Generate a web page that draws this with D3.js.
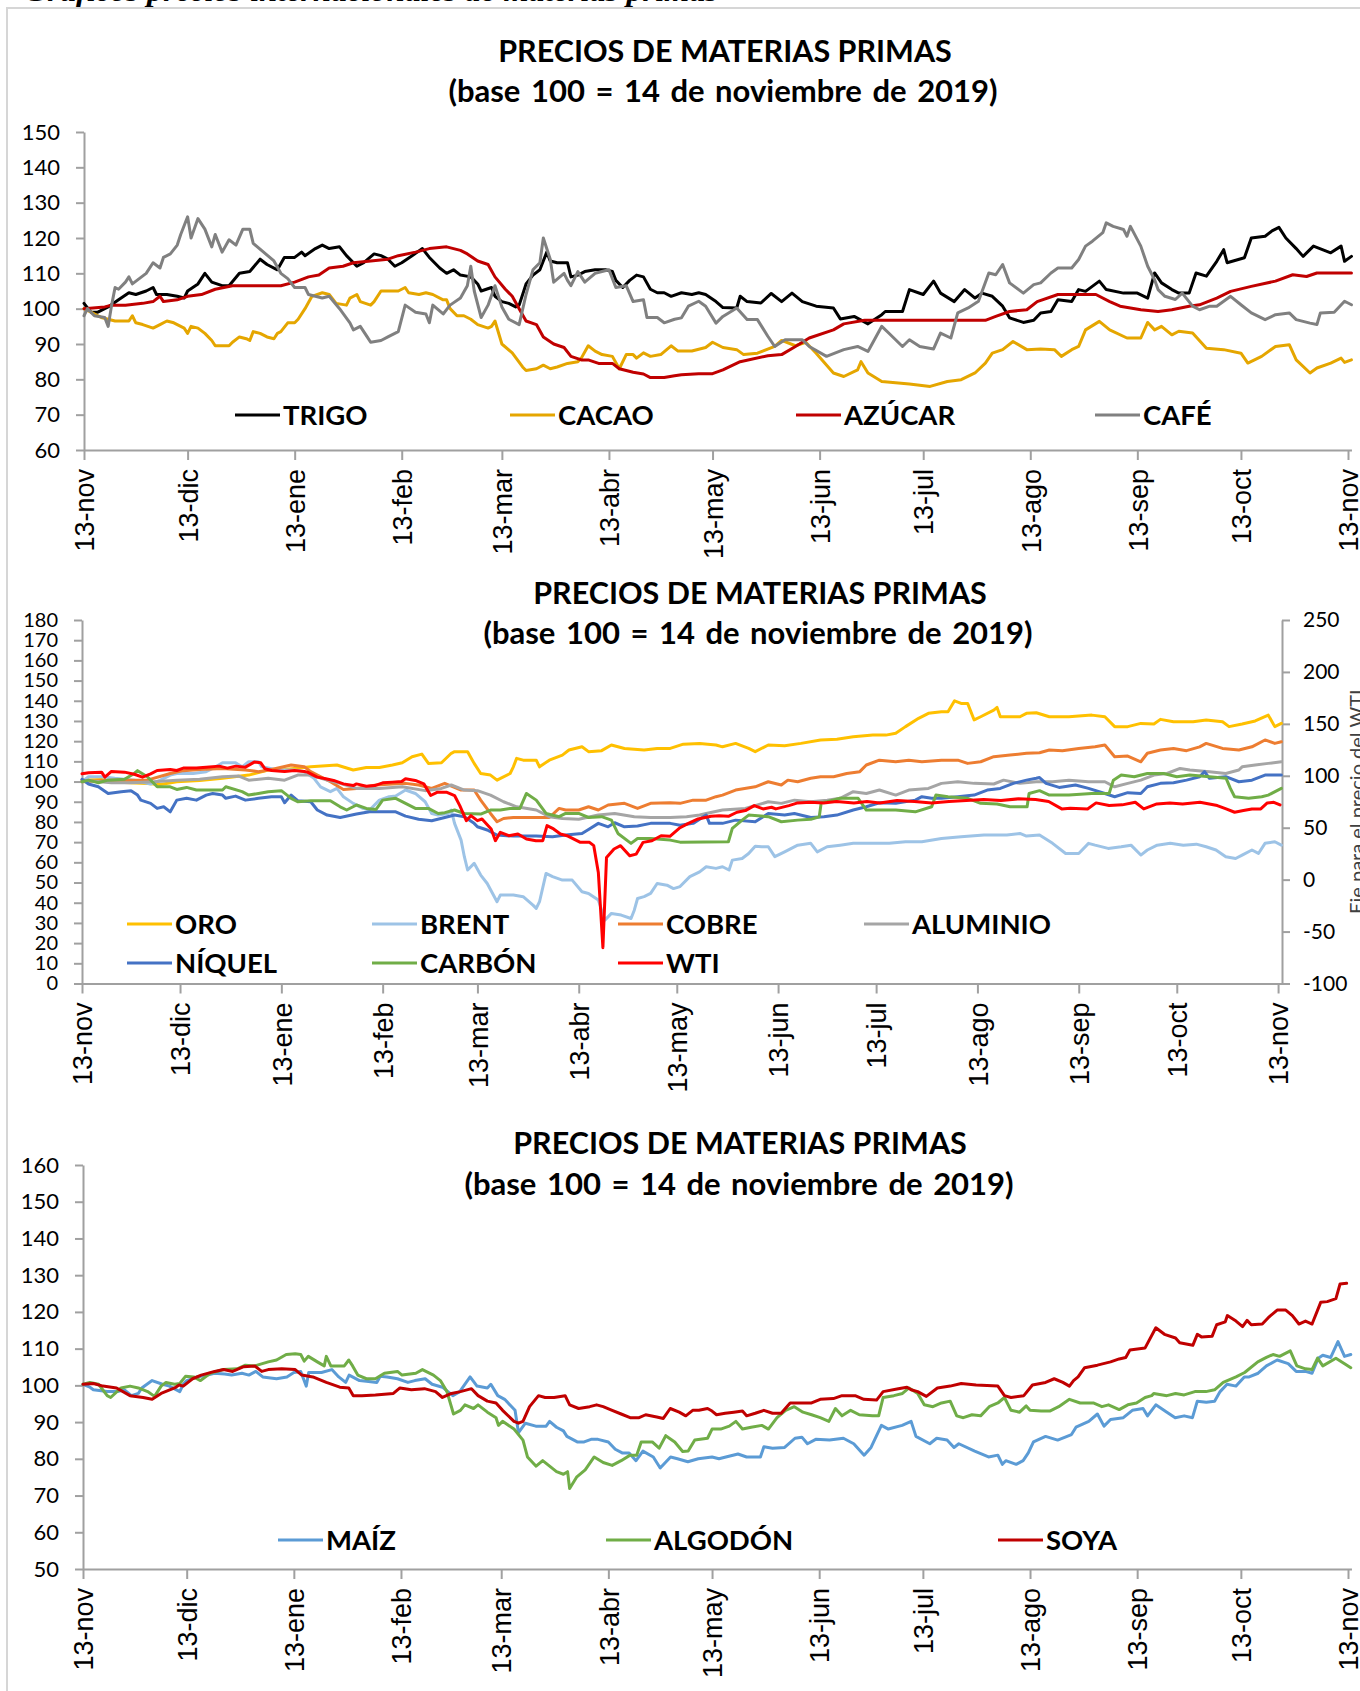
<!DOCTYPE html>
<html><head><meta charset="utf-8">
<script src="https://cdnjs.cloudflare.com/ajax/libs/d3/7.8.5/d3.min.js"></script>
<style>body{margin:0;background:#fff;}svg{display:block;}</style>
</head><body>
<script>
// ---------- DATA (day offset from 13-nov-2019, index value) ----------
const monthLabels = ["13-nov","13-dic","13-ene","13-feb","13-mar","13-abr","13-may","13-jun","13-jul","13-ago","13-sep","13-oct","13-nov"];
const chartTitle1 = "PRECIOS DE MATERIAS PRIMAS";
const chartTitle2 = "(base 100 = 14 de noviembre de 2019)";

// Chart 1
const trigo = [[0,101.5],[2,99],[4,99],[7,100.5],[10,102.5],[13,104.5],[15,104],[18,105],[20,106],[21,104],[24,104],[27,103.5],[29,103],[30,105],[33,107],[35,110],[37,107.5],[40,106.5],[42,106.5],[45,110],[48,110.5],[51,114],[53,112.5],[56,111],[58,114.5],[61,114.5],[63,116],[64,115],[67,117],[69,118],[71,117],[74,117.5],[76,115],[79,112],[81,113],[84,115.5],[86,115],[88,114],[90,112],[92,113],[95,115],[98,117],[100,114.5],[103,111.5],[105,110],[107,111],[109,109.5],[112,109],[114,107],[115,105],[118,106],[119,103.5],[121,102],[123,101.5],[125,100.5],[126,101],[128,107],[130,109.5],[132,111],[134,116],[135,113.5],[137,113],[140,113],[141,109],[143,109.5],[145,110.5],[148,111],[151,111],[153,110.5],[154,108],[156,106],[158,108],[160,109.5],[162,109],[164,105.5],[166,104.5],[168,104.5],[170,103.5],[173,104.5],[176,104],[178,104.5],[180,104],[183,102],[185,100.3],[189,100.2],[190,103.5],[192,102],[196,101.6],[199,104.3],[202,102],[205,104.4],[208,102],[212,100.7],[217,100.2],[219,97.1],[223,97.8],[227,95.7],[231,98.3],[232,99.2],[237,99.2],[239,105.4],[243,104],[246,107.8],[248,104.4],[252,102],[255,105.4],[258,103],[260,104.4],[263,103.5],[266,100.7],[268,97.4],[272,96.1],[275,96.7],[277,98.8],[280,99.2],[282,102.5],[286,102],[288,105.4],[290,104.9],[294,107.8],[296,105.4],[301,104.4],[305,104.4],[308,103],[310,110.1],[312,107.3],[315,105.4],[317,104.4],[320,104.4],[322,110.1],[325,109.2],[328,113.4],[330,116.7],[331,113],[336,114.4],[338,120],[342,120.5],[344,122],[346,123],[348,120],[351,117],[353,114.8],[356,117.7],[361,115.8],[364,117.7],[365,113.4],[367,114.8]];
const cacao = [[0,100],[2,99],[5,97.5],[9,96.5],[13,96.5],[14,98],[15,96],[17,95.5],[20,94.5],[22,95.5],[24,96.5],[26,96],[29,94.5],[30,93],[31,95],[33,94.5],[35,93],[37,91],[38,89.5],[42,89.5],[43,90.5],[45,92],[47,91.5],[48,91],[49,93.5],[51,93],[53,92],[55,91.5],[56,93],[57,93.5],[59,96],[61,96],[62,97],[64,100],[66,103.5],[69,104.5],[71,104],[73,101.5],[76,101],[77,103],[79,104],[80,102],[83,101],[84,102],[86,105],[91,105],[93,106],[94,104.5],[97,104],[99,104.5],[101,104],[104,102.5],[105,102.5],[106,100],[108,98],[110,98],[112,97],[114,95.5],[117,94.5],[118,95],[119,96.5],[121,90],[124,87.5],[127,83.5],[128,82.5],[131,83],[133,84],[135,83],[137,83.5],[140,84.5],[143,85],[144,86],[146,89.5],[148,88],[150,87],[153,86.5],[155,83],[157,87],[159,87],[160,86],[162,87.5],[164,86.5],[167,87],[170,89.5],[172,88],[176,88],[180,89],[182,90.5],[185,89],[189,88.4],[191,87],[195,87.4],[200,89.3],[202,91],[206,89.5],[209,90.5],[212,87.4],[217,81.8],[220,80.8],[224,82.7],[225,85],[227,81.8],[231,79.4],[239,78.7],[245,78],[250,79.4],[254,79.9],[258,81.8],[261,84.6],[263,87.4],[266,88.4],[269,90.7],[273,88.4],[277,88.6],[281,88.4],[283,86.5],[286,88.4],[288,89.3],[290,94],[294,96.4],[297,94],[302,91.7],[306,91.7],[308,96.1],[310,94],[312,95],[315,92.6],[317,93.6],[321,93.1],[325,88.8],[330,88.4],[335,87.4],[337,84.6],[341,86.5],[345,89.3],[349,89.8],[351,85.5],[355,81.8],[357,83.2],[361,84.6],[364,86],[365,84.8],[367,85.5]];
const azucar = [[0,100],[6,100.5],[8,101],[12,101],[17,101.5],[20,102],[22,103.5],[23,102],[27,102.5],[30,103.5],[34,104],[38,105.5],[43,106.5],[48,106.5],[53,106.5],[57,106.5],[61,107.5],[65,109],[68,109.5],[71,111.5],[75,112],[78,113],[83,113.5],[88,114],[91,115],[96,116],[100,117],[105,117.5],[109,116.5],[111,115.5],[114,113.5],[117,112.5],[119,109],[122,105.5],[124,103.5],[126,100],[128,96.5],[131,95.5],[133,92],[136,90],[139,89],[141,86.5],[144,85.5],[146,85.5],[149,84.5],[153,84.5],[155,83],[159,82],[162,81.5],[164,80.5],[168,80.5],[171,81],[173,81.3],[178,81.6],[182,81.6],[185,82.7],[190,85],[198,86.7],[202,87],[206,89.3],[210,91.7],[217,94],[220,95.7],[226,96.7],[236,96.7],[246,96.7],[256,96.7],[261,96.7],[264,97.8],[268,99.2],[273,99.7],[276,102],[282,104],[293,104],[297,102],[300,100.7],[306,99.7],[311,99.2],[315,99.7],[320,100.7],[323,101.1],[328,103],[332,104.9],[338,106.3],[345,107.8],[350,109.6],[354,109.1],[357,110.1],[367,110.1]];
const cafe = [[0,98],[1,100],[3,98],[6,97.5],[7,95],[8,101],[9,106],[10,105.5],[12,107.5],[13,109],[14,107],[16,108.5],[18,110],[20,113],[22,111.5],[23,114.5],[25,115.5],[27,118],[28,121],[30,126],[31,120],[33,125.5],[35,122.5],[37,117.5],[38,121],[40,116],[42,119.5],[44,118],[46,122.5],[48,122.5],[49,118.5],[52,116],[55,113.5],[57,110],[59,108.5],[61,106],[64,106],[65,104],[69,103],[71,103.5],[74,100],[77,96],[78,94],[80,95],[82,92],[83,90.5],[86,91],[88,92],[91,93.5],[93,101],[96,99],[99,98.5],[100,96],[101,101],[104,98.5],[106,101],[109,103],[111,106.5],[112,112],[113,105],[115,97.5],[117,101],[119,106.5],[121,100.5],[123,97],[126,95.5],[128,104],[130,111],[132,113],[133,120],[135,114],[136,107.5],[139,110],[140,108],[141,106.5],[143,110.5],[145,107.5],[148,110],[150,110.5],[152,111],[154,106],[157,106.5],[159,102],[162,102.5],[163,97.5],[166,97.5],[168,96],[171,97],[173,97.4],[175,100.7],[178,102.1],[180,100.7],[183,95.9],[185,97.8],[189,100.2],[192,96.9],[195,96.9],[198,92.2],[200,89.3],[203,91.2],[208,91.2],[210,89.3],[215,86.5],[220,88.4],[224,89.3],[227,87.9],[231,95],[233,93.1],[237,89.3],[239,91.2],[242,89.3],[246,88.6],[248,93.1],[251,91.7],[253,98.8],[256,100.2],[259,102.1],[262,110.1],[264,109.6],[266,112.5],[268,107.3],[272,104.4],[275,106.8],[277,107.3],[280,110.1],[282,111.5],[286,111.5],[288,113.9],[290,117.7],[292,119.1],[295,121.5],[296,124.3],[298,123.3],[301,122.4],[302,120.5],[303,123.3],[306,117.7],[308,112],[310,108.2],[311,105.4],[313,103.5],[316,102.6],[318,104.4],[321,100.7],[323,99.7],[326,100.7],[328,100.7],[332,103.5],[335,101.1],[338,98.8],[342,96.9],[345,98.3],[349,98.8],[351,96.9],[355,95.9],[357,95.5],[358,98.8],[362,99],[365,102.1],[367,101.1]];

// Chart 2 (WTI on right axis)
const oro = [[0,100.7],[6,101],[13,99.5],[20,99],[24,98.5],[29,99.9],[36,100.5],[43,101.6],[51,103.2],[57,105.7],[62,106],[70,107.3],[78,108.2],[83,105.7],[87,107],[91,107],[95,108.2],[98,109.3],[101,112.3],[104,113.6],[106,109],[110,109.3],[113,114],[114,114.8],[118,114.8],[120,109],[122,104],[125,103.2],[127,100.7],[131,104],[132,107.3],[133,111.5],[135,110.6],[139,110.6],[140,107.3],[143,110.6],[147,113.1],[149,115.6],[153,117.2],[155,114.8],[159,115.3],[162,118.1],[166,116.4],[172,115.6],[176,116.4],[180,116.4],[184,118.5],[189,118.9],[194,118.1],[196,117.2],[200,118.9],[204,116.4],[206,114.8],[210,118.1],[215,117.7],[220,118.9],[226,120.6],[231,120.9],[236,122.2],[242,123],[246,123],[249,123.9],[252,127.2],[256,131.3],[259,133.8],[263,134.6],[265,134.6],[267,140],[269,138.7],[271,138.7],[273,130.5],[275,132.1],[279,135.4],[280,136.7],[281,132.1],[287,132.1],[289,133.8],[292,134.1],[296,132.1],[302,132.1],[309,132.9],[313,132.1],[316,127.2],[320,127.2],[324,128.8],[328,128.5],[330,130.8],[334,129.6],[340,129.6],[344,130.5],[349,129.6],[351,127.2],[355,128.5],[359,130],[363,132.9],[365,127.2],[367,128.8]];
const brent = [[0,99.9],[2,102.4],[6,102.4],[10,101.6],[16,100.7],[18,99.9],[21,98.8],[24,100.7],[27,103.2],[29,104],[34,104],[38,104.9],[40,106.5],[43,109.3],[47,109.3],[49,107.3],[51,109.8],[54,109.8],[55,107.3],[60,105.7],[65,105.7],[68,104.9],[71,101.6],[73,97.4],[76,95],[78,96.6],[80,92.5],[83,89.2],[86,86.7],[88,85.9],[91,90.8],[94,92.5],[96,92.8],[99,95.8],[102,94.1],[105,90],[107,84.2],[109,83.4],[112,84.2],[113,85.9],[114,79.3],[116,71],[117,62.8],[118,56.2],[120,59.5],[122,53.7],[124,49.5],[127,40.5],[128,43.8],[132,43.8],[135,43],[138,38.8],[139,37.2],[140,40.5],[142,54.5],[144,52.9],[147,51.2],[150,51.2],[153,45.4],[155,44.6],[158,41.3],[160,31.4],[162,34.7],[165,33.9],[168,32.2],[169,36.3],[170,42.1],[172,43],[174,44.6],[176,49.5],[179,48.7],[181,47],[183,48],[186,52.9],[189,55.3],[191,57.8],[194,57],[196,57.8],[198,56.2],[199,61.1],[202,61.9],[204,64.4],[206,68],[208,67.7],[210,67.7],[212,62.8],[215,65.2],[219,68.5],[223,69.4],[225,65.2],[228,67.7],[232,68.5],[236,69.4],[247,69.4],[252,70.2],[257,70.2],[263,71.8],[269,72.7],[276,73.5],[283,73.5],[287,74.3],[289,73],[293,73.5],[297,69.4],[301,64.4],[305,64.4],[308,69.4],[310,68.5],[314,66.9],[318,67.7],[321,68.5],[324,63.6],[326,66.1],[329,68.5],[333,69.4],[337,68.5],[341,69],[344,67.7],[347,66.1],[350,62.8],[353,61.9],[355,63.6],[358,66.1],[360,64.4],[362,69.4],[365,70.2],[367,68.5]];
const cobre = [[0,99.9],[9,100.7],[20,100.7],[27,104],[31,105.4],[36,106],[43,106.5],[50,105.7],[54,104.9],[58,106],[64,108.2],[68,107.3],[70,104.9],[76,99.9],[80,96.1],[84,96.6],[90,98.3],[95,98.8],[99,99.1],[103,98.3],[107,96.6],[111,99.1],[116,95.8],[120,95.8],[122,90.8],[125,84.2],[127,80.1],[129,81.7],[132,82.2],[139,82.2],[143,82.2],[146,86.7],[148,85.9],[152,85.9],[155,87.5],[158,85.9],[161,88.4],[166,89.2],[170,86.7],[174,89.2],[180,89.5],[183,89.2],[187,90.8],[191,90.8],[194,92.5],[196,93.3],[200,95.8],[206,97.4],[210,99.9],[214,98.3],[216,100.7],[219,99.9],[223,101.6],[226,102.4],[230,102.4],[234,104],[238,104.9],[240,108.2],[244,110.6],[249,109.8],[253,110.6],[257,109.8],[263,110.6],[268,110.6],[271,109],[275,109.8],[279,112.3],[284,113.1],[289,114],[293,114.3],[296,115.6],[300,115.3],[305,116.4],[310,117.2],[313,118.1],[316,112.3],[320,112.6],[324,109.8],[326,114],[330,115.6],[334,116.4],[338,115.3],[342,117.2],[344,118.9],[349,116.4],[354,115.6],[358,117.2],[362,120.6],[365,118.9],[367,119.7]];
const aluminio = [[0,100.7],[9,99.4],[15,99.4],[22,99.9],[29,100.7],[36,101.1],[43,102.4],[48,102.7],[51,100.7],[57,101.6],[62,100.7],[66,103.2],[70,103.2],[75,100.7],[79,99.1],[84,96.6],[91,96.6],[98,97.4],[105,95.5],[110,96.6],[113,98.3],[117,95.8],[121,95.5],[125,93.3],[129,90],[133,87.5],[139,85.9],[143,82.6],[147,81.7],[152,81.3],[158,83.4],[163,84.2],[169,82.6],[174,82.2],[180,82.2],[185,82.6],[189,83.4],[191,84.2],[196,85.9],[203,86.7],[210,90],[214,89.2],[218,90.8],[223,90],[228,90.8],[232,91.7],[236,95],[240,94.1],[244,95.8],[249,93.3],[253,95.8],[259,96.6],[263,99.1],[268,99.9],[273,99.1],[279,98.8],[282,100.7],[287,99.1],[292,99.9],[297,99.9],[302,100.7],[308,99.9],[313,99.9],[316,97.4],[320,99.1],[324,100.7],[328,103.2],[332,104],[336,106.5],[339,105.7],[345,104.9],[350,104],[354,105.7],[355,107.3],[359,108.2],[363,109],[367,109.8]];
const niquel = [[0,101.1],[2,98.8],[5,97.4],[8,94.1],[12,95],[15,95.5],[17,93.3],[18,90.8],[21,89.2],[23,86.7],[25,87.5],[27,85],[29,90.8],[32,91.7],[35,90.8],[38,93.3],[40,94.1],[43,93.3],[44,91.7],[47,92.8],[50,90.8],[54,91.7],[58,92.5],[61,92.5],[62,89.5],[64,93.3],[66,90.5],[70,90],[72,85.9],[75,83.4],[79,82.2],[84,83.9],[88,85],[92,85],[96,85],[99,82.9],[103,81.3],[107,80.6],[111,82.2],[114,83.4],[117,82.6],[120,79.3],[121,77.6],[124,76],[127,73.5],[132,73],[139,73],[144,72.7],[148,73.5],[153,74.3],[155,76.3],[158,79.3],[161,77.6],[163,79.6],[166,77.6],[170,78],[174,79.3],[180,79.3],[183,78.4],[187,79.3],[191,83.4],[192,79.3],[196,79.3],[200,80.9],[206,80.1],[210,84.2],[215,83.4],[218,84.2],[223,82.2],[227,82.6],[231,83.4],[236,85.9],[240,87.5],[244,89.5],[249,89.2],[255,90.8],[257,92.5],[260,91.7],[263,91.7],[268,92.5],[273,93.3],[277,95.8],[281,96.6],[285,99.1],[289,100.7],[292,101.6],[293,102],[295,99.1],[299,97.1],[304,98.3],[308,96.6],[313,94.1],[316,92.5],[320,94.5],[324,94.1],[326,97.4],[330,99.1],[334,99.4],[338,100.7],[342,102.4],[343.5,104.9],[345,101.6],[350,102.4],[354,99.9],[358,100.7],[362,103.2],[367,103.2]];
const carbon = [[0,99.9],[2,100.7],[5,99.4],[8,100.7],[13,101.1],[16,104],[17,105.4],[20,102.4],[23,97.4],[27,97.4],[29,96.1],[32,97.1],[35,95.8],[43,95.8],[44,97.4],[49,95],[51,93.3],[54,94.1],[57,95],[61,95.5],[64,91.7],[66,90],[70,90.5],[76,90.5],[79,87.5],[81,85.9],[84,88.4],[87,86.7],[90,86.2],[92,90.8],[96,91.7],[99,89.2],[102,86.7],[106,86.7],[109,84.2],[111,84.6],[114,85.9],[117,84.2],[122,83.9],[125,85.9],[128,85.9],[131,86.7],[134,86.7],[136,94.1],[139,90.8],[142,84.2],[146,82.6],[148,84.2],[152,84.2],[155,82.2],[159,82.6],[162,80.9],[164,74.3],[168,69.4],[170,71.8],[174,71.8],[180,71],[183,70],[197.8,70.2],[199,76.8],[202,80.9],[204,83.4],[210,82.6],[214,80.1],[219,80.9],[223,81.3],[225.6,82.6],[226.2,89.5],[228,90],[232,91.7],[237.5,91.7],[240,85.9],[249,85.9],[255,85],[260,87.5],[261.3,93.3],[265,92.5],[271,91.7],[275,89.2],[280,88.9],[284,87.5],[289.2,87.5],[289.8,94.1],[293,95.5],[296,93.3],[302,93.3],[309,94.1],[314.3,94.1],[315.6,100.7],[318,103.2],[322,102.4],[326,104],[331,104],[335,102.4],[339,103.2],[345,102.4],[350.1,101.6],[351.4,96.6],[352.7,92.5],[357,91.7],[361,92.5],[363,93.3],[367,96.6]];
const wti = [[0,101.9],[2,102.9],[6,103.5],[7,98.7],[9,104.2],[13,103.5],[16,101.5],[18.5,98.7],[21,101.9],[23,105.1],[27,106.1],[29,105.1],[31,107.4],[35,107.4],[38,108.3],[42,109.3],[44.5,107.4],[47,109.3],[50,108.3],[52.7,113.2],[54.7,112.5],[56,106.7],[58,105.1],[62,104.2],[65,105.1],[68,104.2],[69,103.5],[72,98.7],[74.6,97.1],[77,95.5],[80,92.2],[83,90.6],[84,92.2],[87,90],[89.6,90.6],[92,93.2],[95,93.9],[97.8,94.5],[99,97.1],[102,95.5],[104.6,92.2],[106.7,81],[108.8,84.2],[111.5,84.2],[114,81],[115.6,71.3],[117.6,56.8],[119,61.6],[121,56.8],[122.4,58.4],[125.2,48.8],[126.5,37.5],[128,45.6],[130.6,42.3],[133.4,43.9],[136,39.1],[138.9,37.5],[141,37.5],[142.3,52],[144.3,48.8],[146.4,43.9],[148.4,42.3],[152.5,35.9],[155.3,35.9],[156.6,32.7],[158,6.9],[159.4,-65.5],[160.5,21.4],[162.8,29.5],[164.8,32.7],[167.6,23],[169.6,24.6],[171.7,35.9],[174.4,37.5],[177.2,42.3],[179.9,41.7],[183,50],[185.4,54],[188.5,58.4],[192.5,61],[195,61.6],[197.8,61],[200.4,64.9],[203,66.5],[205.7,71.3],[208.4,68.1],[211,69.7],[212.3,68.1],[216.3,71.3],[219,73.9],[222.9,74.5],[226.9,73.9],[230.9,75.2],[236.2,73.9],[240.2,75.2],[244.1,73.9],[249.4,76.1],[254.7,75.2],[260,73.9],[265.3,75.2],[270.6,76.1],[275.9,77.1],[281.2,76.1],[286.5,77.8],[291.8,77.1],[295.8,75.2],[299.8,68.1],[302.4,68.7],[307.7,68.1],[310.3,73.9],[314.3,71.3],[318.3,72],[322.3,74.5],[324.9,68.1],[328.9,72.9],[332.9,73.9],[336.8,72.9],[342.1,74.5],[347.4,71.3],[350.1,68.1],[352.7,64.9],[355.4,66.5],[358,68.1],[360.7,68.1],[362.7,73.9],[364.7,74.5],[366.6,72]];

// Chart 3
const maiz = [[0,100.3],[2,99.5],[3,98.8],[7,98.3],[10,98.3],[12,98.8],[14,97.2],[16,97.8],[17,99.3],[20,101.3],[23,100.3],[25,99.8],[28,98.3],[29,100.3],[30,101.3],[33,102.3],[36,102.8],[38,103.3],[41,103.1],[43,102.8],[46,103.3],[48,102.8],[50,103.8],[52,102.3],[56,101.8],[59,102.3],[61,103.5],[63,103.8],[64.6,99.8],[65.3,103.5],[69,103.5],[72,104.3],[74,102.3],[76,100.8],[77,102.8],[80,101.3],[82,101.1],[85,100.8],[86,102.5],[88,102.3],[91,101.8],[94,100.8],[96,101.3],[99,101.8],[101,100.3],[104,99.5],[107,97.2],[109,98.3],[112,102.3],[114,99.8],[117,99.3],[118,100.3],[120,97.2],[122,96.2],[125,93.2],[126,87.1],[128,89.7],[131,88.9],[134,88.9],[135,90.2],[137,88.6],[139,87.6],[140,86.1],[143,84.6],[145,84.6],[147,85.3],[149,85.3],[152,84.6],[154,82.6],[156,81.6],[158,81.6],[160,79.5],[162,82.1],[165,80.5],[167,77.5],[170,80.5],[172,80],[175,79.2],[178,80],[182,80.5],[184,80],[186,80.5],[189.5,81.3],[192,80.5],[196,80.5],[197,83.3],[199.5,82.9],[203,83.1],[206,85.6],[208,85.9],[209.6,84.1],[212,85.3],[216,85.1],[220,85.6],[223,84.1],[226,81],[228,83.1],[231,89.1],[233,88.1],[237,89.1],[239.6,90.2],[241,86.1],[245,84.1],[247,85.6],[250,85.1],[252,83.1],[253.4,84.1],[258,82.1],[262,80.5],[264.7,81],[266,78.5],[267,79.5],[270,78.5],[272,79.5],[273.5,81.6],[275,84.6],[278.5,86.1],[282,85.1],[286,86.6],[287.3,88.6],[291,90.2],[293.5,92.2],[295.4,88.9],[297.3,90.7],[301,91.2],[303.6,93.2],[306.7,93.7],[308,91.7],[310.4,94.7],[313.6,92.7],[316,91.2],[318.6,91.7],[321,91.2],[322.4,95.7],[325,95.4],[327.4,95.7],[329,98.3],[331,100.3],[333.6,99.8],[336,102.3],[337.4,102.3],[340,103.3],[342.4,105.3],[345.5,106.9],[348.7,105.9],[351,103.8],[353.7,103.8],[355.6,103.3],[357.4,107.4],[358.7,108.2],[361,107.6],[363.1,111.9],[365,107.9],[366.8,108.4]];
const algodon = [[0,100.3],[2,100.8],[4.5,100.3],[7,97.2],[8,96.7],[11,99.3],[13.6,99.8],[16,99.3],[18.7,98.3],[20.7,97],[22.6,99.8],[24,100.8],[26.5,100.3],[28,100.5],[29.7,102.5],[32,102.3],[34,101.3],[36.8,103.3],[40.7,104.3],[44.6,104.5],[47,105.5],[49.7,105.3],[53.6,106.4],[56,106.9],[58.8,108.4],[61.4,108.6],[63,108.4],[64,106.6],[65.2,107.9],[67.8,106.4],[69.8,105.3],[70.4,107.9],[71.7,105.3],[75.6,105.3],[76.9,106.9],[78,105.3],[79.5,102.8],[82,101.8],[84.6,101.8],[87.2,103.3],[91,103.8],[92.3,102.8],[96.3,103.3],[98.2,104.3],[101.4,102.8],[103.4,101.3],[105.3,98.3],[107.2,92.2],[109.2,93.2],[110.5,94.7],[113,93.7],[114.3,94.7],[117,92.7],[119.5,91.2],[120.2,89.1],[121.4,90.2],[124.7,88.1],[127.3,85.1],[128.6,80.5],[131.1,78],[133,79.5],[135,78],[137,76.5],[139,75.8],[140.2,76.5],[140.8,71.9],[142.8,75],[145.3,77],[147.9,80.5],[150.5,79],[153.1,78.2],[155.7,79.5],[158.3,81],[160.2,81],[161.5,84.6],[164.7,84.6],[166.7,82.9],[168.6,86.3],[171.2,84.6],[173.5,82],[175.1,82.1],[177,85.1],[180.7,85.6],[182,88.1],[184.5,88.1],[187,88.9],[188.9,90.2],[190.8,88.1],[193.3,88.6],[196.4,89.1],[198.3,88.1],[200.8,91.2],[203.3,93.2],[205.8,94.2],[208.3,92.7],[210.8,92],[213.3,91.2],[215.8,90.2],[217.7,93.7],[219.6,91.7],[222.1,93.2],[224.6,92],[228.4,91.7],[230.2,91.7],[231.5,96.7],[234.6,97.2],[237.1,97.8],[239,99.3],[241.5,97.8],[243.4,94.7],[245.9,94.2],[248.4,95.2],[250.9,95.7],[252.8,91.7],[254.7,91.2],[257.2,92],[259.7,91.7],[262.2,94.2],[264.7,95.2],[266.6,96.7],[268.5,93.2],[271,92.7],[272.9,94.4],[274,93.2],[277.2,93],[279.7,93],[282.3,94.2],[285.4,96.2],[288.5,95.2],[292.3,95.2],[294.8,94.2],[296.7,94.7],[299.8,93.4],[302.3,94.7],[304.8,95.2],[307.3,96.7],[309.2,97.2],[309.8,97.8],[313.6,97.2],[316.1,97.8],[318.6,97.4],[321.7,98.3],[324.9,98.3],[327.4,98.8],[329.9,100.8],[333.6,102.3],[336.1,103.5],[339.9,106.4],[342.4,107.6],[344.3,108.4],[346.2,107.9],[349.3,109.4],[351.2,105.3],[353.7,104.5],[355.6,104.3],[357.2,107.4],[358.7,105.3],[362.5,107.4],[365,105.9],[366.8,104.8]];
const soya = [[0,100.3],[3,100.5],[5.8,99.8],[9.7,99.3],[13.6,97.2],[17.4,96.7],[20,96.2],[22.6,97.8],[26.5,99.3],[27.8,100.1],[29,99.8],[31.7,101.8],[34.2,102.8],[38.1,103.8],[40.7,104.3],[43.3,103.8],[46.5,105.1],[49.7,105.3],[51.7,103.8],[53.6,104.3],[57.5,104.5],[61.4,104.3],[63.3,102.8],[66.5,102.3],[70.4,100.8],[74.3,99.5],[76.9,99.3],[78.2,97.2],[80.7,97.2],[84.6,97.4],[89.8,97.8],[91.7,99.3],[95,98.8],[98.8,99.1],[102,98.3],[104,96.7],[106.6,97.8],[109.2,98.3],[112.4,99.1],[114.3,97.2],[117,95.7],[119.5,95.2],[121.4,93.2],[124.7,90.2],[126,89.7],[127.3,90.2],[129.2,94.2],[131.8,97.2],[133.7,96.7],[136.3,96.7],[139.5,97.2],[140.8,94.7],[143.4,93.7],[146.6,94.2],[148.6,94.7],[150.5,94.2],[153.1,93.2],[155.7,92.2],[158.3,91.2],[160.9,91.2],[162.8,92],[166,91.4],[167.9,91],[169.9,93.7],[172.5,92.7],[174.4,91.7],[176.4,93.2],[178.2,93.2],[180.7,93.7],[182,93],[183.3,92],[185.8,92.4],[188.3,92.7],[190.8,93],[192,91.7],[194.5,92.4],[197,93.2],[199.5,92.4],[202,92.4],[204.6,95.2],[210.8,95.2],[213.3,96.2],[217.1,96.4],[219.6,97.2],[223.4,97.2],[225.9,96.2],[229.6,96],[231.5,98.3],[235.9,99.1],[238.4,99.5],[239.6,98.8],[241.5,98.3],[244,97],[247.2,99.3],[250.9,99.8],[254.1,100.5],[258.4,100.1],[264.7,99.8],[266.6,97.2],[268.5,96.7],[272.2,97.2],[274.7,100.1],[278.5,100.8],[281,101.8],[283.5,100.8],[285.4,99.8],[286.6,101.3],[287.9,102.3],[289.8,104.8],[293.5,105.5],[297.3,106.4],[299.8,107.2],[301.7,107.6],[302.9,109.6],[307.3,110.2],[310.4,115.7],[312.9,113.9],[316.1,112.9],[317.3,111.6],[321.1,110.9],[322.4,113.9],[323.6,113.2],[326.7,113.4],[328,116.5],[330.5,117.3],[331.1,119],[333.6,117.5],[335.5,116],[336.8,117.7],[338,116.5],[341.2,116.7],[343,118.5],[345.5,120.5],[348,120.5],[349.9,119],[351.8,116.7],[353.7,117.5],[355.6,116.7],[358.1,122.6],[360,122.8],[362.5,123.6],[363.7,127.6],[365.6,127.8]];

// ---------- DRAWING ----------
const W = 1360, H = 1691;
const svg = d3.select('body').append('svg').attr('width', W).attr('height', H);
const base = new Date(2019, 10, 13);
const tickDays = d3.range(13).map(i => d3.timeDay.count(base, new Date(2019, 10 + i, 13)));
const AX = '#A0A0A0';
const LATO = 'Lato, "Open Sans", sans-serif';
const ARIAL = '"Liberation Sans", Arial, sans-serif';
const plainNum = d => String(d);

// page frame + cut caption
svg.append('rect').attr('x', 7).attr('y', 8).attr('width', W + 20).attr('height', H + 20)
  .attr('fill', 'none').attr('stroke', '#D6D6D6').attr('stroke-width', 2);
svg.append('text').attr('x', 24).attr('y', 0.5)
  .attr('font-family', '"Liberation Serif", "Times New Roman", serif')
  .attr('font-style', 'italic').attr('font-weight', 'bold').attr('font-size', 29)
  .attr('textLength', 694).attr('lengthAdjust', 'spacingAndGlyphs')
  .text('Gráficos precios internacionales de materias primas');

function drawChart(o) {
  const g = svg.append('g');
  const x = d3.scaleLinear().domain([0, o.xEnd]).range([o.x0, o.x1]);
  const y = d3.scaleLinear().domain(o.yDomain).range([o.yBot, o.yTop]);

  // titles
  g.append('text').attr('x', o.tx1).attr('y', o.ty1).attr('text-anchor', 'middle')
    .attr('font-family', LATO).attr('font-weight', 'bold').attr('font-size', 30.5).text(chartTitle1);
  g.append('text').attr('x', o.tx2).attr('y', o.ty2).attr('text-anchor', 'middle')
    .attr('font-family', LATO).attr('font-weight', 'bold').attr('font-size', 31)
    .attr('word-spacing', 3).text(chartTitle2);

  // x axis
  const xa = g.append('g').attr('transform', `translate(0,${o.yBot})`).attr('color', AX)
    .call(d3.axisBottom(x).tickValues(tickDays).tickFormat((d, i) => monthLabels[i]).tickSize(10).tickSizeOuter(0));
  xa.select('.domain').attr('stroke-width', 2);
  xa.selectAll('.tick line').attr('stroke-width', 2);
  xa.selectAll('text').attr('transform', 'rotate(-90)').attr('x', -19).attr('y', 0).attr('dy', '0.36em')
    .attr('text-anchor', 'end').attr('font-family', ARIAL).attr('font-size', 27).attr('fill', '#000');

  // left y axis
  const ya = g.append('g').attr('transform', `translate(${o.x0},0)`).attr('color', AX)
    .call(d3.axisLeft(y).tickValues(o.yTicks).tickFormat(plainNum).tickSize(8).tickSizeOuter(0).tickPadding(16));
  ya.select('.domain').attr('stroke-width', 2);
  ya.selectAll('.tick line').attr('stroke-width', 2);
  ya.selectAll('text').attr('font-family', LATO).attr('font-size', o.yFont).attr('fill', '#000');

  let yR = null;
  if (o.rDomain) {
    yR = d3.scaleLinear().domain(o.rDomain).range([o.yBot, o.yTop]);
    const ra = g.append('g').attr('transform', `translate(${o.x1},0)`).attr('color', AX)
      .call(d3.axisRight(yR).tickValues(o.rTicks).tickFormat(plainNum).tickSize(8).tickSizeOuter(0).tickPadding(13));
    ra.select('.domain').attr('stroke-width', 2);
    ra.selectAll('.tick line').attr('stroke-width', 2);
    ra.selectAll('text').attr('font-family', LATO).attr('font-size', 21).attr('fill', '#000');
    g.append('text').attr('transform', `translate(${o.rTitleX},${(o.yTop + o.yBot) / 2}) rotate(-90)`)
      .attr('text-anchor', 'middle').attr('font-family', LATO).attr('font-size', 20).attr('fill', '#404040')
      .text(o.rTitle);
  }

  // series
  o.series.forEach(s => {
    const sy = s.right ? yR : y;
    const line = d3.line().x(d => x(d[0])).y(d => sy(d[1]));
    g.append('path').datum(s.data).attr('d', line).attr('fill', 'none')
      .attr('stroke', s.color).attr('stroke-width', o.sw).attr('stroke-linejoin', 'round').attr('stroke-linecap', 'round');
  });

  // legend
  o.series.forEach(s => {
    g.append('line').attr('x1', s.lx).attr('x2', s.lx + 45).attr('y1', s.ly).attr('y2', s.ly)
      .attr('stroke', s.color).attr('stroke-width', 3);
    g.append('text').attr('x', s.lx + 48).attr('y', s.ly).attr('dy', '0.36em')
      .attr('font-family', LATO).attr('font-weight', 'bold').attr('font-size', 27.5).attr('fill', '#000')
      .text(s.name);
  });
}

drawChart({
  x0: 84, x1: 84 + 367 * (1264 / 366), xEnd: 367,
  yTop: 132, yBot: 450, yDomain: [60, 150], yTicks: d3.range(60, 151, 10), yFont: 22,
  tx1: 725, ty1: 62, tx2: 723, ty2: 102, sw: 3,
  series: [
    {name: 'TRIGO', color: '#000000', data: trigo, lx: 235, ly: 415},
    {name: 'CACAO', color: '#E5A600', data: cacao, lx: 510, ly: 415},
    {name: 'AZÚCAR', color: '#C00000', data: azucar, lx: 796, ly: 415},
    {name: 'CAFÉ', color: '#808080', data: cafe, lx: 1095, ly: 415}
  ]
});

drawChart({
  x0: 82, x1: 1282, xEnd: 367.2,
  yTop: 620, yBot: 983.5, yDomain: [0, 180], yTicks: d3.range(0, 181, 10), yFont: 20,
  rDomain: [-100, 250], rTicks: d3.range(-100, 251, 50), rTitle: 'Eje para el precio del WTI', rTitleX: 1364,
  tx1: 760, ty1: 604, tx2: 758, ty2: 644, sw: 3,
  series: [
    {name: 'ORO', color: '#FFC000', data: oro, lx: 127, ly: 924},
    {name: 'BRENT', color: '#9DC3E6', data: brent, lx: 372, ly: 924},
    {name: 'COBRE', color: '#ED7D31', data: cobre, lx: 618, ly: 924},
    {name: 'ALUMINIO', color: '#A5A5A5', data: aluminio, lx: 864, ly: 924},
    {name: 'NÍQUEL', color: '#4472C4', data: niquel, lx: 127, ly: 963},
    {name: 'CARBÓN', color: '#70AD47', data: carbon, lx: 372, ly: 963},
    {name: 'WTI', color: '#FF0000', data: wti, lx: 618, ly: 963, right: true}
  ]
});

drawChart({
  x0: 83, x1: 83 + 367 * (1265 / 366), xEnd: 367,
  yTop: 1165, yBot: 1569, yDomain: [50, 160], yTicks: d3.range(50, 161, 10), yFont: 22,
  tx1: 740, ty1: 1154, tx2: 739, ty2: 1195, sw: 3,
  series: [
    {name: 'MAÍZ', color: '#5B9BD5', data: maiz, lx: 278, ly: 1540},
    {name: 'ALGODÓN', color: '#70AD47', data: algodon, lx: 606, ly: 1540},
    {name: 'SOYA', color: '#C00000', data: soya, lx: 998, ly: 1540}
  ]
});
</script>
</body></html>
